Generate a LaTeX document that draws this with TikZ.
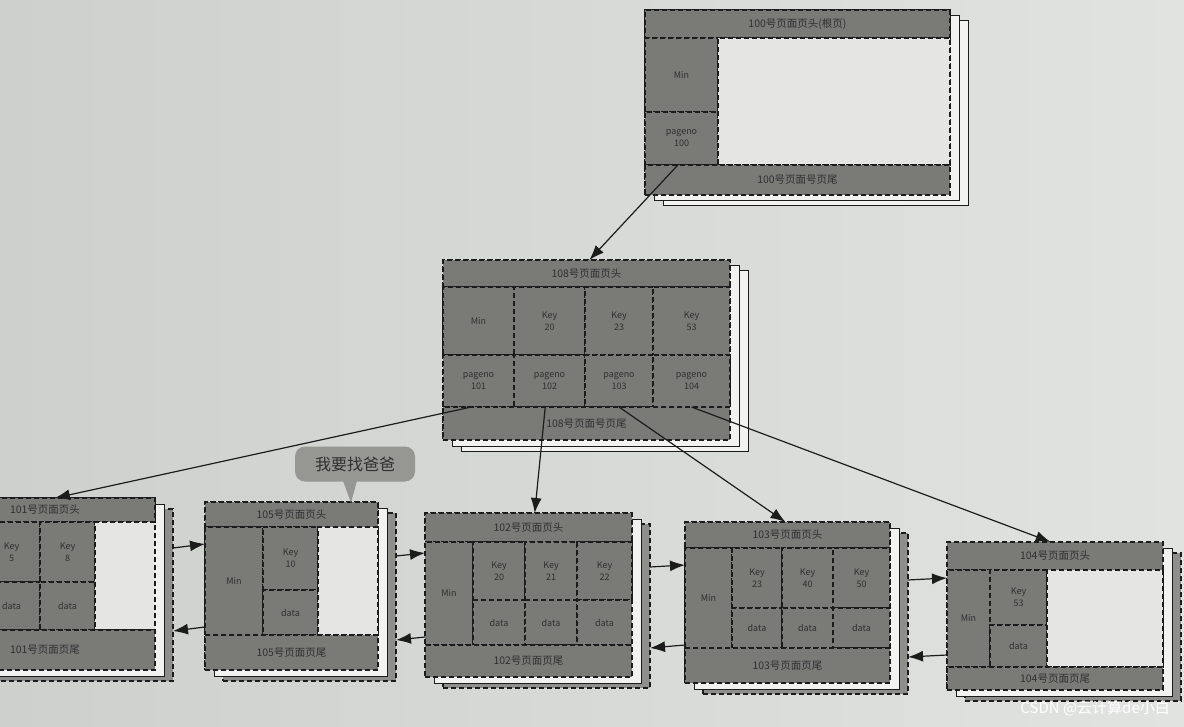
\documentclass[tikz,border=0pt]{standalone}
\usepackage{fontspec}
\newfontfamily\cjk{Noto Sans CJK SC}
\usetikzlibrary{fit,calc,arrows.meta}
\definecolor{paperL}{RGB}{206,208,206}
\definecolor{paperR}{RGB}{225,227,225}
\definecolor{pagegray}{RGB}{122,122,119}
\definecolor{whitearea}{RGB}{229,230,227}
\definecolor{inkc}{RGB}{28,28,28}
\definecolor{txtc}{RGB}{48,48,48}
\definecolor{bubblec}{RGB}{150,150,147}
\tikzset{
 cellsty/.style={draw=inkc, line width=1.4pt, dash pattern=on 5pt off 3pt, fill=pagegray, inner sep=0pt, outer sep=0pt},
 whitesty/.style={cellsty, fill=whitearea},
 backsolid/.style={draw=inkc, line width=1pt, fill=whitearea!50!white, inner sep=0pt, outer sep=0pt},
 backdash/.style={cellsty, fill=pagegray!85!white},
 txt/.style={font=\cjk\fontsize{9}{12}\selectfont, text=txtc, align=center, inner sep=0pt},
 htxt/.style={font=\cjk\fontsize{10.5}{12}\selectfont, text=txtc, inner sep=0pt},
 arr/.style={draw=inkc, line width=1.2pt, -{Latex[length=15pt,width=11pt]}},
}
\newcommand\cbox[7][cellsty]{\node[#1, fit={(#3,#4) (#5,#6)}, label={[txt]center:#7}] (#2) {};}
\newcommand\hdcell[6]{\node[cellsty, fit={(#2,#3) (#4,#5)}, label={[htxt]center:#6}] (#1) {};}
\newcommand\pagestack[6]{%
 \node[#6, fit={(#2+18,#3+11) (#4+18,#5+11)}] (#1b2) {};
 \node[backsolid, fit={(#2+9,#3+6) (#4+9,#5+6)}] (#1b1) {};
 \node[cellsty, fit={(#2,#3) (#4,#5)}] (#1) {};}
\begin{document}
\begin{tikzpicture}[x=1pt,y=-1pt]
\useasboundingbox (0,0) rectangle (1184,727);
\clip (0,0) rectangle (1184,727);
\shade[left color=paperL, right color=paperR] (0,0) rectangle (1184,727);

% root page 100
\pagestack{p100}{645}{10}{950}{195}{backsolid}
\hdcell{r100h}{645}{10}{950}{38}{100号页面页头(根页)}
\cbox{r100m}{645}{38}{718}{112}{Min}
\cbox{r100p}{645}{112}{718}{165}{pageno\\100}
\cbox[whitesty]{r100w}{718}{38}{950}{165}{}
\hdcell{r100f}{645}{165}{950}{195}{100号页面号页尾}

% page 108
\pagestack{p108}{443}{260}{730}{440}{backsolid}
\hdcell{h108}{443}{260}{730}{287}{108号页面页头}
\cbox{m108}{443}{287}{514}{355}{Min}
\cbox{k108a}{514}{287}{585}{355}{Key\\20}
\cbox{k108b}{585}{287}{653}{355}{Key\\23}
\cbox{k108c}{653}{287}{730}{355}{Key\\53}
\cbox{q101}{443}{355}{514}{407}{pageno\\101}
\cbox{q102}{514}{355}{585}{407}{pageno\\102}
\cbox{q103}{585}{355}{653}{407}{pageno\\103}
\cbox{q104}{653}{355}{730}{407}{pageno\\104}
\hdcell{f108}{443}{407}{730}{440}{108号页面号页尾}

% page 101 (partly outside the left edge)
\pagestack{p101}{-65}{498}{155}{670}{backdash}
\hdcell{h101}{-65}{498}{155}{522}{101号页面页头}
\cbox{m101}{-65}{522}{-17}{630}{}
\cbox{k101a}{-17}{522}{40}{582}{Key\\5}
\cbox{d101a}{-17}{582}{40}{630}{data}
\cbox{k101b}{40}{522}{95}{582}{Key\\8}
\cbox{d101b}{40}{582}{95}{630}{data}
\cbox[whitesty]{w101}{95}{522}{155}{630}{}
\hdcell{f101}{-65}{630}{155}{670}{101号页面页尾}

% page 105
\pagestack{p105}{205}{502}{378}{670}{backdash}
\hdcell{h105}{205}{502}{378}{527}{105号页面页头}
\cbox{m105}{205}{527}{263}{635}{Min}
\cbox{k105a}{263}{527}{318}{590}{Key\\10}
\cbox{d105a}{263}{590}{318}{635}{data}
\cbox[whitesty]{w105}{318}{527}{378}{635}{}
\hdcell{f105}{205}{635}{378}{670}{105号页面页尾}

% page 102
\pagestack{p102}{425}{513}{632}{677}{backdash}
\hdcell{h102}{425}{513}{632}{542}{102号页面页头}
\cbox{m102}{425}{542}{473}{645}{Min}
\cbox{k102a}{473}{542}{525}{600}{Key\\20}
\cbox{d102a}{473}{600}{525}{645}{data}
\cbox{k102b}{525}{542}{577}{600}{Key\\21}
\cbox{d102b}{525}{600}{577}{645}{data}
\cbox{k102c}{577}{542}{632}{600}{Key\\22}
\cbox{d102c}{577}{600}{632}{645}{data}
\hdcell{f102}{425}{645}{632}{677}{102号页面页尾}

% page 103
\pagestack{p103}{685}{522}{890}{683}{backdash}
\hdcell{h103}{685}{522}{890}{548}{103号页面页头}
\cbox{m103}{685}{548}{732}{648}{Min}
\cbox{k103a}{732}{548}{782}{608}{Key\\23}
\cbox{d103a}{732}{608}{782}{648}{data}
\cbox{k103b}{782}{548}{833}{608}{Key\\40}
\cbox{d103b}{782}{608}{833}{648}{data}
\cbox{k103c}{833}{548}{890}{608}{Key\\50}
\cbox{d103c}{833}{608}{890}{648}{data}
\hdcell{f103}{685}{648}{890}{683}{103号页面页尾}

% page 104
\pagestack{p104}{947}{542}{1163}{690}{backdash}
\hdcell{h104}{947}{542}{1163}{570}{104号页面页头}
\cbox{m104}{947}{570}{990}{667}{Min}
\cbox{k104a}{990}{570}{1047}{625}{Key\\53}
\cbox{d104a}{990}{625}{1047}{667}{data}
\cbox[whitesty]{w104}{1047}{570}{1163}{667}{}
\hdcell{f104}{947}{667}{1163}{690}{104号页面页尾}

% speech bubble
\node[fill=bubblec, rounded corners=10pt, minimum width=120pt, minimum height=35pt, inner sep=0pt,
      font=\cjk\fontsize{16}{18}\selectfont, text=txtc] (bubble) at (355,464) {我要找爸爸};
\fill[bubblec] ([xshift=-12pt,yshift=1pt]bubble.south) -- ([xshift=-4pt,yshift=-21pt]bubble.south) -- ([xshift=2pt,yshift=1pt]bubble.south) -- cycle;

% tree pointers
\draw[arr] ($(r100p.south west)!0.45!(r100p.south east)$) -- ($(p108.north west)!0.51!(p108.north east)$);
\draw[arr] ($(q101.south west)!0.4!(q101.south east)$) -- ($(p101.north west)!0.545!(p101.north east)$);
\draw[arr] ($(q102.south west)!0.44!(q102.south east)$) -- ($(p102.north west)!0.53!(p102.north east)$);
\draw[arr] ($(q103.south west)!0.5!(q103.south east)$) -- ($(p103.north west)!0.49!(p103.north east)$);
\draw[arr] ($(q104.south west)!0.5!(q104.south east)$) -- ($(p104.north west)!0.48!(p104.north east)$);

% sibling links
\draw[arr] ([yshift=-39pt]p101b2.north east) -- ([yshift=-42pt]p105.north west);
\draw[arr] ([yshift=-125pt]p105.north west) -- ([yshift=-122pt]p101b2.north east);
\draw[arr] ([yshift=-43pt]p105b2.north east) -- ([yshift=-40pt]p102.north west);
\draw[arr] ([yshift=-124pt]p102.north west) -- ([yshift=-127pt]p105b2.north east);
\draw[arr] ([yshift=-43pt]p102b2.north east) -- ([yshift=-43pt]p103.north west);
\draw[arr] ([yshift=-123pt]p103.north west) -- ([yshift=-124pt]p102b2.north east);
\draw[arr] ([yshift=-47pt]p103b2.north east) -- ([yshift=-36pt]p104.north west);
\draw[arr] ([yshift=-113pt]p104.north west) -- ([yshift=-124pt]p103b2.north east);

% watermark
\node[font=\cjk\fontsize{15}{17}\selectfont, text=white, anchor=east, inner sep=0pt] (wm) at (1170,708) {CSDN @云计算de小白};
\end{tikzpicture}
\end{document}
